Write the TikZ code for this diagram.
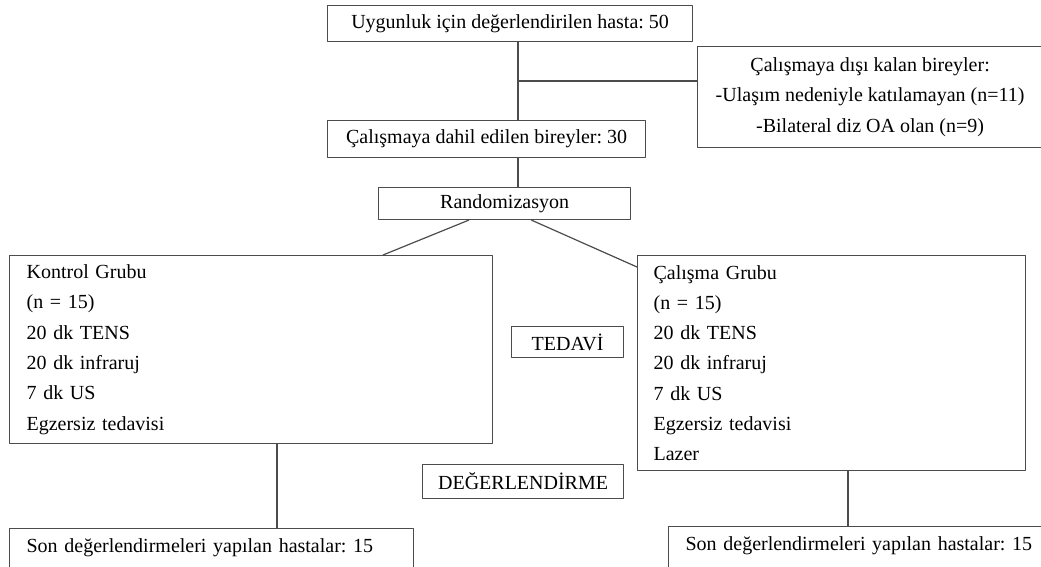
\documentclass[tikz,border=0pt]{standalone}
\usepackage{fontspec}
\setmainfont{Liberation Serif}
\usepackage{tikz}
\frenchspacing

\begin{document}
\begin{tikzpicture}[line cap=round,line join=round,x=0.5pt,y=-0.5pt,
    kutu/.style={draw=black!70,line width=0.6pt,rectangle,inner sep=0pt,anchor=north west,
      font=\fontsize{10}{15.15}\selectfont},
    grup/.style={kutu,align=left,inner xsep=8.5pt},
    cizgi/.style={draw=black!70,line width=0.6pt}]
  \useasboundingbox (0,0) rectangle (1041,567);
  \clip (0,0) rectangle (1041,567);
  \node[kutu,minimum width=182.5pt,minimum height=18pt] (hasta) at (327,5) {Uygunluk için değerlendirilen hasta: 50};
  \node[kutu,minimum width=159pt,minimum height=18.5pt] (dahil) at (327,120) {Çalışmaya dahil edilen bireyler: 30};
  \node[kutu,align=center,minimum width=172.5pt,minimum height=50.5pt] (dislama) at (697,46)
    {Çalışmaya dışı kalan bireyler:\\-Ulaşım nedeniyle katılamayan (n=11)\\-Bilateral diz OA olan (n=9)};
  \node[kutu,minimum width=126pt,minimum height=16pt] (random) at (378,187) {Randomizasyon};
  \node[grup,text width=224.5pt,minimum height=94pt] (kontrol) at (9,255)
    {Kontrol Grubu\\(n = 15)\\20 dk TENS\\20 dk infraruj\\7 dk US\\Egzersiz tedavisi};
  \node[grup,inner xsep=8pt,text width=178pt,minimum height=107.5pt] (calisma) at (637,255)
    {Çalışma Grubu\\(n = 15)\\20 dk TENS\\20 dk infraruj\\7 dk US\\Egzersiz tedavisi\\Lazer};
  \node[kutu,minimum width=56pt,minimum height=15.5pt] (tedavi) at (511,326) {TEDAVİ};
  \node[kutu,minimum width=100.5pt,minimum height=17pt] (degerlendirme) at (422,464) {DEĞERLENDİRME};
  \node[grup,text width=185pt,inner ysep=5pt,text height=7pt,text depth=30pt] (sonsol) at (9,528)
    {Son değerlendirmeleri yapılan hastalar: 15};
  \node[grup,text width=200pt,inner ysep=5pt,text height=7pt,text depth=30pt] (sonsag) at (668,526)
    {Son değerlendirmeleri yapılan hastalar: 15};
  \coordinate (trunk) at (518,81);
  \coordinate (solalt) at (277,500);
  \coordinate (sagalt) at (848,500);
  \draw[cizgi] (hasta.south -| trunk) -- (dahil.north -| trunk);
  \draw[cizgi] (trunk) -- (trunk -| dislama.west);
  \draw[cizgi] (dahil.south -| trunk) -- (random.north -| trunk);
  \draw[cizgi] ([xshift=-18pt]random.south) -- ([xshift=187pt]kontrol.north west);
  \draw[cizgi] ([xshift=13.5pt]random.south) -- ([yshift=-6pt]calisma.north west);
  \draw[cizgi] (kontrol.south -| solalt) -- (sonsol.north -| solalt);
  \draw[cizgi] (calisma.south -| sagalt) -- (sonsag.north -| sagalt);
\end{tikzpicture}
\end{document}
